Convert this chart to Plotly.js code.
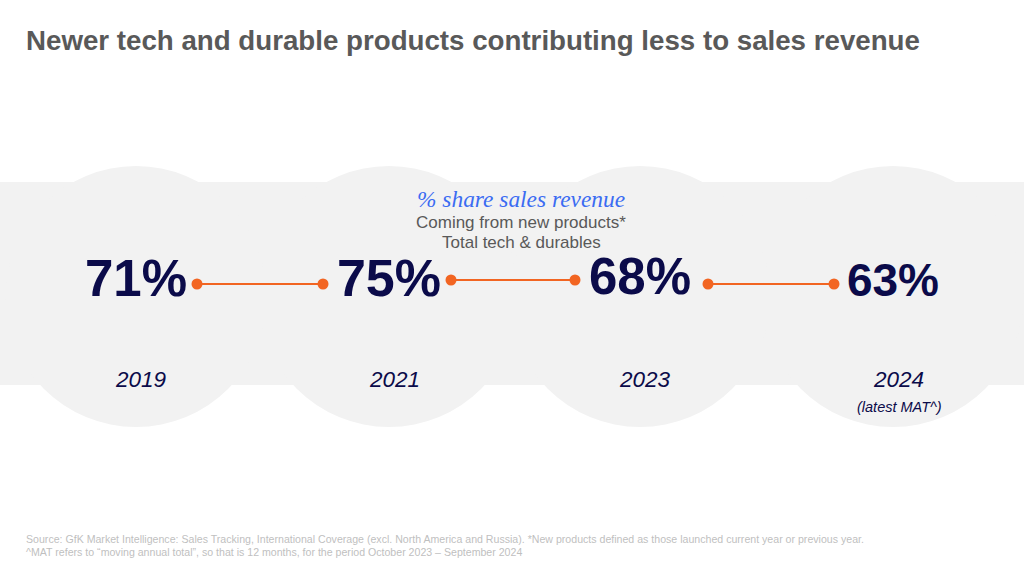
<!DOCTYPE html>
<html>
<head>
<meta charset="utf-8">
<script src="https://cdn.plot.ly/plotly-3.0.1.min.js"></script>
<style>html,body{margin:0;padding:0;background:#fff;}#chart{width:1024px;height:576px;}</style>
</head>
<body>
<div id="chart"></div>
<script>
// ---- data ----
const years = ['2019', '2021', '2023', '2024'];
const shareValues = [71, 75, 68, 63];
const yearNotes = ['', '', '', '(latest MAT^)'];
const titleText = 'Newer tech and durable products contributing less to sales revenue';
const headerLines = ['% share sales revenue', 'Coming from new products*', 'Total tech & durables'];
const footnotes = [
  'Source: GfK Market Intelligence: Sales Tracking, International Coverage (excl. North America and Russia). *New products defined as those launched current year or previous year.',
  '^MAT refers to \u201cmoving annual total\u201d, so that is 12 months, for the period October 2023 \u2013 September 2024'
];

// ---- layout geometry (pixel space) ----
const centers = [136, 389, 640, 893];
const valueY = [283, 283, 281, 284];
const valueFontSizes = [51, 52, 51, 46];
const connY = [284, 280, 284];
const connStartOff = [61, 62, 68];
const connEndOff = [66, 65, 59];
const yearY = 379;
const navy = '#0b0b4a';
const orange = '#f26522';
const circR = 130.5, circCY = 296.5;

const traces = [];

// connectors
const cx = [], cy = [];
for (let i = 0; i < centers.length - 1; i++) {
  cx.push(centers[i] + connStartOff[i], centers[i + 1] - connEndOff[i], null);
  cy.push(connY[i], connY[i], null);
}
traces.push({
  x: cx, y: cy, mode: 'lines+markers', type: 'scatter',
  line: {color: orange, width: 2},
  marker: {color: orange, size: 11},
  hoverinfo: 'skip', showlegend: false, connectgaps: false
});

// values
traces.push({
  x: centers, y: valueY, mode: 'text', type: 'scatter',
  text: shareValues.map(v => v + '%'),
  textposition: 'middle center',
  textfont: {family: 'Liberation Sans, Arial, sans-serif', size: valueFontSizes, color: navy, weight: 'bold'},
  hoverinfo: 'skip', showlegend: false
});

const annotations = [];
years.forEach((yr, i) => {
  annotations.push({
    x: centers[i] + 5, y: yearY, xref: 'x', yref: 'y', text: '<i>' + yr + '</i>', showarrow: false,
    xanchor: 'center', yanchor: 'middle',
    font: {family: 'Liberation Sans, Arial, sans-serif', size: 22.5, color: navy}
  });
  if (yearNotes[i]) {
    annotations.push({
      x: centers[i] + 6, y: 407, xref: 'x', yref: 'y', text: '<i>' + yearNotes[i] + '</i>', showarrow: false,
      xanchor: 'center', yanchor: 'middle',
      font: {family: 'Liberation Sans, Arial, sans-serif', size: 14.5, color: navy}
    });
  }
});

annotations.push({
  x: 24, y: 40, xref: 'x', yref: 'y', text: '<b>' + titleText + '</b>', showarrow: false,
  xanchor: 'left', yanchor: 'middle',
  font: {family: 'Liberation Sans, Arial, sans-serif', size: 27.7, color: '#595959'}
});
annotations.push({
  x: 521, y: 199, xref: 'x', yref: 'y', text: '<i>' + headerLines[0] + '</i>', showarrow: false,
  xanchor: 'center', yanchor: 'middle',
  font: {family: 'Liberation Serif, DejaVu Serif, serif', size: 23.4, color: '#3b6cf2'}
});
annotations.push({
  x: 521, y: 222, xref: 'x', yref: 'y', text: headerLines[1], showarrow: false,
  xanchor: 'center', yanchor: 'middle',
  font: {family: 'Liberation Sans, Arial, sans-serif', size: 17, color: '#595959'}
});
annotations.push({
  x: 521, y: 242, xref: 'x', yref: 'y', text: headerLines[2], showarrow: false,
  xanchor: 'center', yanchor: 'middle',
  font: {family: 'Liberation Sans, Arial, sans-serif', size: 17, color: '#595959'}
});
footnotes.forEach((t, i) => {
  annotations.push({
    x: 24, y: 539 + i * 12.5, xref: 'x', yref: 'y', text: t, showarrow: false,
    xanchor: 'left', yanchor: 'middle',
    font: {family: 'Liberation Sans Narrow, Arial Narrow, sans-serif', size: 10.6, color: '#bfbfbf'}
  });
});

const shapes = [{
  type: 'rect', xref: 'x', yref: 'y', x0: 0, x1: 1024, y0: 182, y1: 385,
  fillcolor: '#f2f2f2', line: {width: 0}, layer: 'below'
}];
centers.forEach(c => {
  shapes.push({
    type: 'circle', xref: 'x', yref: 'y', x0: c - circR, x1: c + circR, y0: circCY - circR, y1: circCY + circR,
    fillcolor: '#f2f2f2', line: {width: 0}, layer: 'below'
  });
});

const layout = {
  width: 1024, height: 576,
  margin: {l: 0, r: 0, t: 0, b: 0},
  paper_bgcolor: '#ffffff', plot_bgcolor: '#ffffff',
  xaxis: {range: [0, 1024], visible: false, fixedrange: true},
  yaxis: {range: [576, 0], visible: false, fixedrange: true},
  shapes: shapes,
  annotations: annotations,
  showlegend: false
};

Plotly.newPlot('chart', traces, layout, {displayModeBar: false, staticPlot: true});
</script>
</body>
</html>
